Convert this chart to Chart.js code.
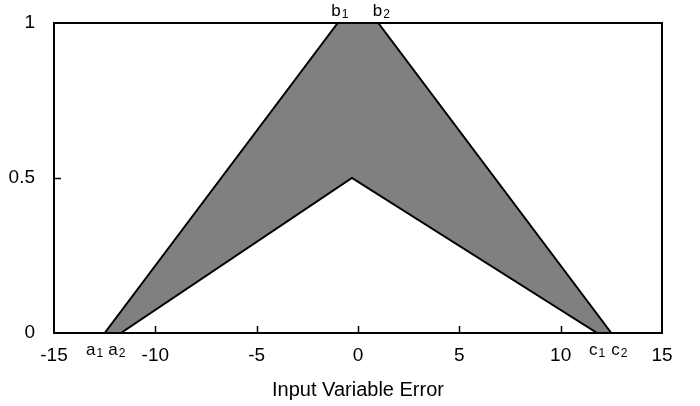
<!DOCTYPE html>
<html>
<head>
<meta charset="utf-8">
<script src="https://cdn.jsdelivr.net/npm/chart.js@4.4.1/dist/chart.umd.min.js"></script>
<style>
  html, body { margin: 0; padding: 0; background: #fff; }
  #wrap { width: 700px; height: 406px; }
</style>
</head>
<body>
<div id="wrap"><canvas id="fuzzyChart"></canvas></div>
<script>
// upper membership (outer triangle)
const upperX = [-12.5, -1, 1, 12.5];
const upperY = [0, 1, 1, 0];
// lower membership
const lowerX = [-12.5, -11.7, -0.3, 11.8, 12.5];
const lowerY = [0, 0, 0.5, 0, 0];
const xTicks = [-15, -10, -5, 0, 5, 10, 15];
const yTicks = [0, 0.5, 1];
// point labels: letter, subscript, x position
const bottomLabels = [["a", "1", -13.0], ["a", "2", -11.9], ["c", "1", 11.8], ["c", "2", 12.9]];
const topLabels = [["b", "1", -0.9], ["b", "2", 1.15]];

const FONT = "'Liberation Sans', Arial, sans-serif";

function toPoints(xs, ys) {
    return xs.map((x, i) => ({ x: x, y: ys[i] }));
}

function drawSub(ctx, letter, sub, cx, baseline) {
    ctx.font = "17px " + FONT;
    const w1 = ctx.measureText(letter).width;
    ctx.font = "12px " + FONT;
    const w2 = ctx.measureText(sub).width;
    const start = cx - (w1 + w2 + 1) / 2;
    ctx.textAlign = "left";
    ctx.textBaseline = "alphabetic";
    ctx.font = "17px " + FONT;
    ctx.fillText(letter, start, baseline);
    ctx.font = "12px " + FONT;
    ctx.fillText(sub, start + w1 + 1, baseline + 2);
}

const framePlugin = {
    id: "frame",
    afterDatasetsDraw(chart) {
        const { ctx, chartArea: a, scales } = chart;
        ctx.save();
        ctx.strokeStyle = "#000";
        ctx.lineWidth = 2;
        ctx.strokeRect(a.left, a.top, a.right - a.left, a.bottom - a.top);
        ctx.lineWidth = 1.5;
        ctx.beginPath();
        xTicks.slice(1, -1).forEach(v => {
            const px = Math.round(scales.x.getPixelForValue(v)) + 0.5;
            ctx.moveTo(px, a.bottom);
            ctx.lineTo(px, a.bottom - 7);
        });
        yTicks.slice(1, -1).forEach(v => {
            const py = Math.round(scales.y.getPixelForValue(v)) + 0.5;
            ctx.moveTo(a.left, py);
            ctx.lineTo(a.left + 7, py);
        });
        ctx.stroke();
        ctx.fillStyle = "#000";
        bottomLabels.forEach(l => drawSub(ctx, l[0], l[1], scales.x.getPixelForValue(l[2]), a.bottom + 22));
        topLabels.forEach(l => drawSub(ctx, l[0], l[1], scales.x.getPixelForValue(l[2]), a.top - 7));
        ctx.restore();
    }
};

new Chart(document.getElementById("fuzzyChart"), {
    type: "line",
    data: {
        datasets: [
            {
                data: toPoints(lowerX, lowerY),
                borderColor: "#000",
                borderWidth: 2,
                backgroundColor: "#fff",
                fill: "origin",
                pointRadius: 0,
                tension: 0
            },
            {
                data: toPoints(upperX, upperY),
                borderColor: "#000",
                borderWidth: 2,
                backgroundColor: "#808080",
                fill: "origin",
                pointRadius: 0,
                tension: 0
            }
        ]
    },
    options: {
        responsive: true,
        maintainAspectRatio: false,
        animation: false,
        layout: { padding: { top: 23, right: 38, left: 0, bottom: 0 } },
        plugins: { legend: { display: false }, tooltip: { enabled: false } },
        scales: {
            x: {
                type: "linear",
                min: -15,
                max: 15,
                afterBuildTicks: s => { s.ticks = xTicks.map(v => ({ value: v })); },
                afterFit: s => { s.height = 73; },
                grid: { display: false },
                border: { display: false },
                ticks: { color: "#000", font: { family: FONT, size: 19 }, padding: 3, maxRotation: 0 },
                title: { display: true, text: "Input Variable Error", color: "#000", font: { family: FONT, size: 20 }, padding: { top: 6, bottom: 4 } }
            },
            y: {
                min: 0,
                max: 1,
                afterBuildTicks: s => { s.ticks = yTicks.map(v => ({ value: v })); },
                afterFit: s => { s.width = 54; },
                grid: { display: false },
                border: { display: false },
                ticks: { color: "#000", font: { family: FONT, size: 19 }, padding: 11, callback: v => String(v) }
            }
        }
    },
    plugins: [framePlugin]
});
</script>
</body>
</html>
